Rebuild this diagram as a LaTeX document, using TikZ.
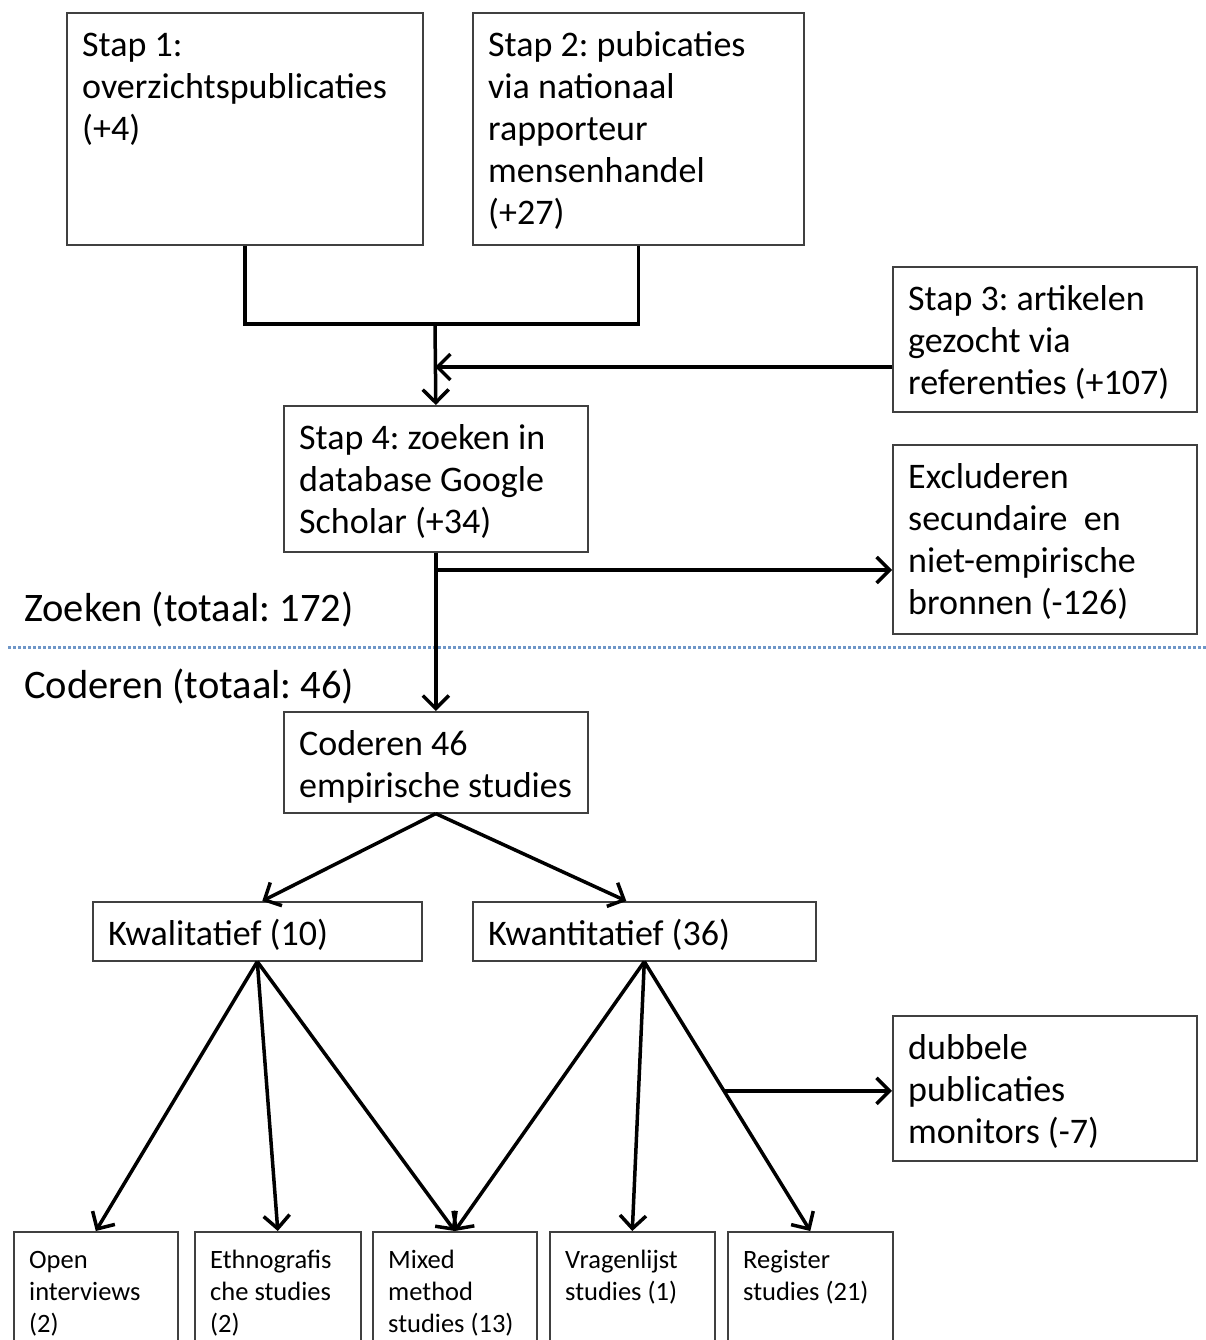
\documentclass[tikz,border=0pt]{standalone}
\usepackage{fontspec}
\setmainfont{Carlito}
\usetikzlibrary{arrows.meta,calc}
\frenchspacing
\tikzset{
 bx/.style={draw=black!75, line width=1.6pt, inner sep=0pt, anchor=north west},
 btxt/.style={anchor=north west, inner sep=0pt, align=left, font=\fontsize{36}{42}\selectfont},
 stxt/.style={anchor=north west, inner sep=0pt, align=left, font=\fontsize{26.5}{32}\selectfont},
 conn/.style={line width=3.5pt, black, line join=miter},
 arr/.style={conn, -{Straight Barb[length=13pt,width=26pt]}},
 lbl/.style={anchor=base west, inner sep=0pt, font=\fontsize{40.5}{46}\selectfont},
 sep/.style={line width=3pt, color={rgb,255:red,110;green,150;blue,200}, dash pattern=on 3pt off 2pt},
}
\newcommand\mkbox[7]{%
 \node[bx, minimum width={(#5-#3)*1pt}, minimum height={(#6-#4)*1pt}] (#2) at (#3,#4) {};
 \node[#1] (#2-t) at (#3+16,#4+15) {\strut #7};
}
\begin{document}
\begin{tikzpicture}[x=1pt,y=-1pt]
\path[use as bounding box, fill=white] (0,0) rectangle (1206,1340);
\clip (0,0) rectangle (1206,1340);

\mkbox{btxt}{b1}{66}{12}{422}{244}{Stap 1:\\ overzichtspublicaties\\ (+4)}
\mkbox{btxt}{b2}{472}{12}{803}{244}{Stap 2: pubicaties\\ via nationaal\\ rapporteur\\ mensenhandel\\ (+27)}
\mkbox{btxt}{b3}{892}{266}{1196}{411}{Stap 3: artikelen\\ gezocht via\\ referenties (+107)}
\mkbox{btxt}{b4}{283}{405}{587}{551}{Stap 4: zoeken in\\ database Google\\ Scholar (+34)}
\mkbox{btxt}{b5}{892}{444}{1196}{633}{Excluderen\\ secundaire\ \ en\\ niet-empirische\\ bronnen (-126)}
\mkbox{btxt}{b6}{283}{711}{587}{812}{Coderen 46\\ empirische studies}
\mkbox{btxt}{kwal}{92}{901}{421}{960}{Kwalitatief (10)}
\mkbox{btxt}{kwant}{472}{901}{815}{960}{Kwantitatief (36)}
\mkbox{btxt}{dub}{892}{1015}{1196}{1160}{dubbele\\ publicaties\\ monitors (-7)}
\mkbox{stxt}{open}{13}{1231}{177}{1360}{Open\\ interviews\\ (2)}
\mkbox{stxt}{eth}{194}{1231}{360}{1360}{Ethnografis\\ che studies\\ (2)}
\mkbox{stxt}{mix}{372}{1231}{536}{1360}{Mixed\\ method\\ studies (13)}
\mkbox{stxt}{vra}{549}{1231}{714}{1360}{Vragenlijst\\ studies (1)}
\mkbox{stxt}{reg}{727}{1231}{892}{1360}{Register\\ studies (21)}

\node[lbl] (zoek) at (24,621) {Zoeken (totaal: 172)};
\node[lbl] (cod) at (24,698) {Coderen (totaal: 46)};
\coordinate (sepL) at (8,647);
\coordinate (sepR) at (1206,647);
\draw[sep] (sepL) -- (sepR);

% connectors
\coordinate (jn) at (435,324);
\draw[conn] (b1.south) |- (jn) -| (b2.south);
\draw[arr] (jn) -- (b4.north);
\coordinate (m3) at (435,367);
\draw[arr] (b3.west |- m3) -- (m3);
\draw[arr] (b4.south) -- (b6.north);
\coordinate (m5) at (435,570);
\draw[arr] (m5) -- (m5 -| b5.west);
\draw[arr] (b6.south) -- ([xshift=5pt]kwal.north);
\draw[arr] (b6.south) -- ([xshift=-18pt]kwant.north);
\draw[arr] (kwal.south) -- (open.north);
\draw[arr] (kwal.south) -- (eth.north);
\draw[arr] (kwal.south) -- (mix.north);
\draw[arr] (kwant.south) -- (mix.north);
\draw[arr] (kwant.south) -- (vra.north);
\draw[arr] (kwant.south) -- (reg.north);
\coordinate (m7) at ($(kwant.south)!0.48!(reg.north)$);
\draw[arr] (m7) -- (m7 -| dub.west);
\end{tikzpicture}
\end{document}
